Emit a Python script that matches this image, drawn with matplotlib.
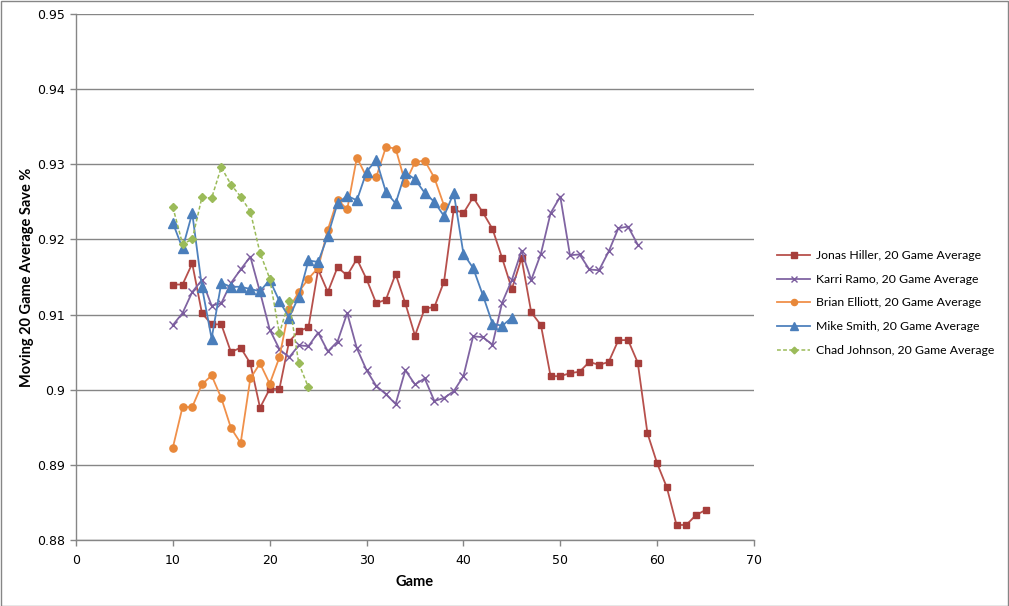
import matplotlib
matplotlib.use("Agg")
import matplotlib.pyplot as plt
from matplotlib.patches import Rectangle

hiller_games = list(range(10, 66))
hiller = [0.9140, 0.9140, 0.9168, 0.9102, 0.9087, 0.9087, 0.9050, 0.9056, 0.9035, 0.8976,
          0.9001, 0.9001, 0.9064, 0.9078, 0.9083, 0.9160, 0.9130, 0.9163, 0.9152, 0.9174,
          0.9147, 0.9115, 0.9120, 0.9154, 0.9115, 0.9072, 0.9108, 0.9110, 0.9144, 0.9240,
          0.9235, 0.9256, 0.9236, 0.9214, 0.9175, 0.9134, 0.9175, 0.9103, 0.9086, 0.9018,
          0.9018, 0.9022, 0.9024, 0.9037, 0.9033, 0.9037, 0.9066, 0.9066, 0.9036, 0.8942,
          0.8902, 0.8870, 0.8820, 0.8820, 0.8833, 0.8840]

ramo_games = list(range(10, 59))
ramo = [0.9086, 0.9102, 0.9130, 0.9146, 0.9112, 0.9115, 0.9142, 0.9160, 0.9177, 0.9130,
        0.9080, 0.9054, 0.9043, 0.9059, 0.9058, 0.9076, 0.9051, 0.9064, 0.9102, 0.9055,
        0.9026, 0.9005, 0.8994, 0.8981, 0.9026, 0.9007, 0.9015, 0.8985, 0.8989, 0.8998,
        0.9018, 0.9071, 0.9070, 0.9060, 0.9116, 0.9146, 0.9185, 0.9146, 0.9181, 0.9235,
        0.9257, 0.9179, 0.9180, 0.9160, 0.9159, 0.9184, 0.9215, 0.9217, 0.9193]

elliott_games = list(range(10, 39))
elliott = [0.8923, 0.8977, 0.8977, 0.9007, 0.9019, 0.8989, 0.8949, 0.8929, 0.9015, 0.9035,
           0.9008, 0.9043, 0.9108, 0.9130, 0.9148, 0.9162, 0.9213, 0.9253, 0.9240, 0.9309,
           0.9283, 0.9283, 0.9323, 0.9321, 0.9275, 0.9303, 0.9305, 0.9282, 0.9245]

smith_games = list(range(10, 46))
smith = [0.9222, 0.9188, 0.9235, 0.9137, 0.9068, 0.9142, 0.9137, 0.9137, 0.9134, 0.9131,
         0.9146, 0.9118, 0.9096, 0.9124, 0.9172, 0.9170, 0.9205, 0.9248, 0.9258, 0.9252,
         0.9290, 0.9306, 0.9263, 0.9248, 0.9289, 0.9280, 0.9262, 0.9250, 0.9231, 0.9262,
         0.9181, 0.9162, 0.9126, 0.9088, 0.9085, 0.9096]

johnson_games = list(range(10, 25))
johnson = [0.9243, 0.9194, 0.9200, 0.9256, 0.9255, 0.9296, 0.9273, 0.9257, 0.9237, 0.9182,
           0.9148, 0.9075, 0.9118, 0.9035, 0.9003]

labels = ["Jonas Hiller, 20 Game Average", "Karri Ramo, 20 Game Average",
          "Brian Elliott, 20 Game Average", "Mike Smith, 20 Game Average",
          "Chad Johnson, 20 Game Average"]

x_ticks = [0, 10, 20, 30, 40, 50, 60, 70]
y_ticks = [0.88, 0.89, 0.90, 0.91, 0.92, 0.93, 0.94, 0.95]
y_tick_labels = ["0.88", "0.89", "0.9", "0.91", "0.92", "0.93", "0.94", "0.95"]

W, H = 1009, 606
fig = plt.figure(figsize=(W / 100, H / 100), dpi=100)
ax = fig.add_axes([76 / W, 1 - 540 / H, (754 - 76) / W, (540 - 14) / H])

ax.plot(hiller_games, hiller, color="#B7504C", lw=1.3, marker="s", ms=4.3,
        mfc="#A63E3B", mec="#A63E3B", label=labels[0], zorder=3)
ax.plot(ramo_games, ramo, color="#8064A2", lw=1.3, marker="x", ms=5.5, mew=1.0,
        mec="#7B5C9E", label=labels[1], zorder=3)
ax.plot(elliott_games, elliott, color="#F0904A", lw=1.3, marker="o", ms=5.2,
        mfc="#E8883A", mec="#E8883A", label=labels[2], zorder=3)
ax.plot(smith_games, smith, color="#4F81BD", lw=1.3, marker="^", ms=7.5,
        mfc="#4A7EBB", mec="#4A7EBB", label=labels[3], zorder=3)
ax.plot(johnson_games, johnson, color="#9BBB59", lw=1.1, ls=(0, (2.5, 1.5)), marker="D",
        ms=4.0, mfc="#9BBB59", mec="#9BBB59", label=labels[4], zorder=3)

ax.set_xlim(0, 70)
ax.set_ylim(0.88, 0.95)
ax.set_xticks(x_ticks)
ax.set_yticks(y_ticks)
ax.set_yticklabels(y_tick_labels)
ax.tick_params(axis="both", labelsize=9, color="#868686", length=4, width=1,
               labelcolor="black")
ax.tick_params(axis="y", pad=4)
ax.tick_params(axis="x", pad=6)
ax.grid(axis="y", color="#868686", lw=1.0, zorder=0)
for s in ["top", "right"]:
    ax.spines[s].set_visible(False)
for s in ["left", "bottom"]:
    ax.spines[s].set_color("#868686")
    ax.spines[s].set_linewidth(1.0)

lab_font = dict(family=["Lato", "DejaVu Sans"], weight="bold", size=10.5)
ax.set_xlabel("Game", fontdict=lab_font, labelpad=6)
ax.set_ylabel("Moving 20 Game Average Save %", fontdict=lab_font)
ax.yaxis.set_label_coords((34 - 76) / (754 - 76), 0.5)

leg = ax.legend(loc="center left", bbox_to_anchor=(766 / W, 1 - 303 / H),
                bbox_transform=fig.transFigure, frameon=False,
                prop=dict(family=["Lato", "DejaVu Sans"], size=8.8),
                handlelength=2.7, handletextpad=0.45, labelspacing=1.04,
                markerscale=0.85)

fig.add_artist(Rectangle((0.5 / W, 0.5 / H), (W - 1.5) / W, (H - 1.5) / H,
                         transform=fig.transFigure, fill=False,
                         edgecolor="#868686", lw=1.0))

fig.savefig("out.png", dpi=100)
